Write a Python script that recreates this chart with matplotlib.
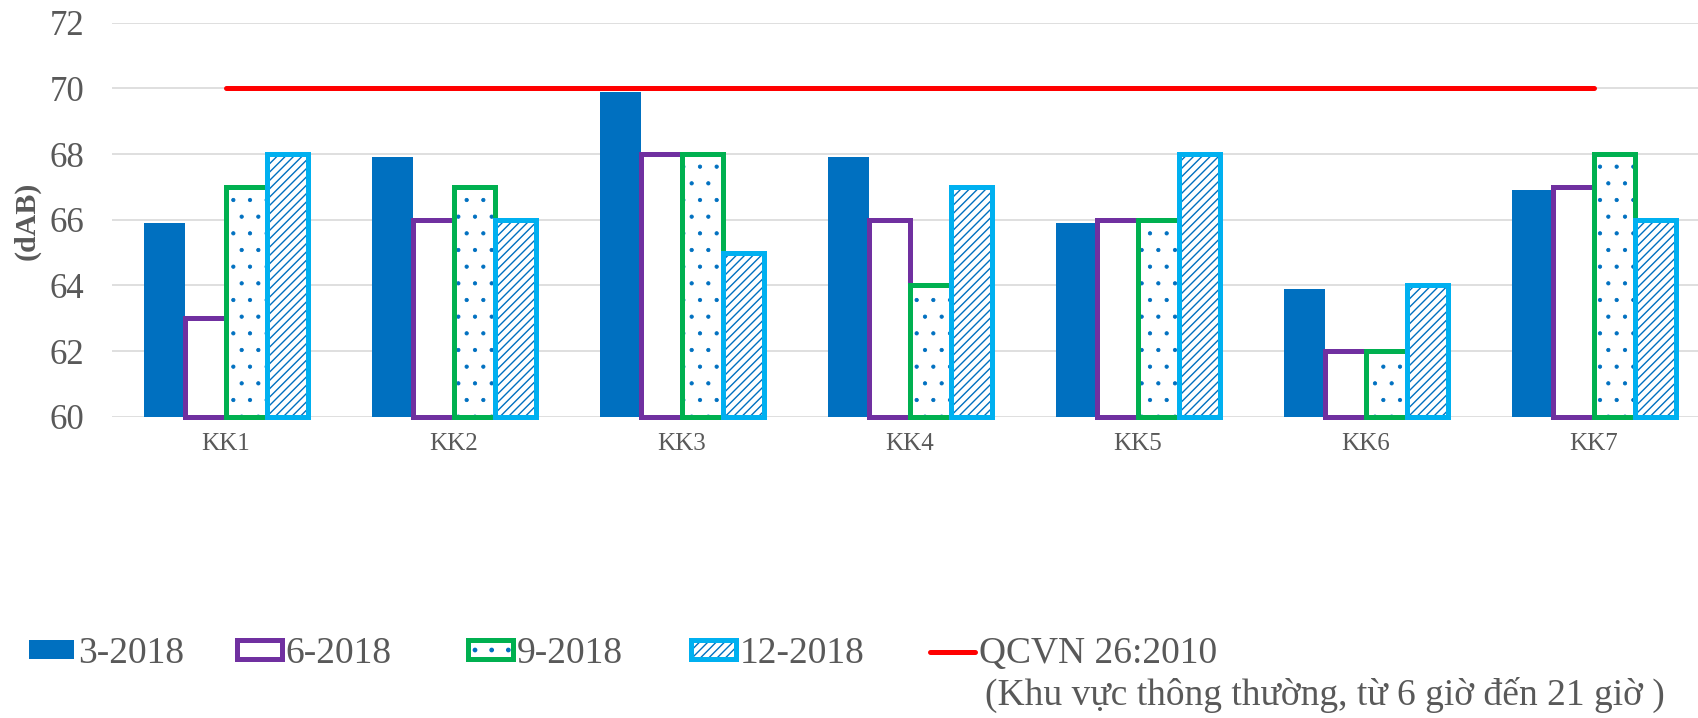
import matplotlib
matplotlib.use("Agg")
import matplotlib.pyplot as plt
import numpy as np
from matplotlib.patches import Rectangle
from matplotlib.lines import Line2D

# ---------------- data ----------------
categories = ["KK1", "KK2", "KK3", "KK4", "KK5", "KK6", "KK7"]
series_names = ["3-2018", "6-2018", "9-2018", "12-2018"]
s_3_2018 = [65.9, 67.9, 69.9, 67.9, 65.9, 63.9, 66.9]
s_6_2018 = [63, 66, 68, 66, 66, 62, 67]
s_9_2018 = [67, 67, 68, 64, 66, 62, 68]
s_12_2018 = [68, 66, 65, 67, 68, 64, 66]
qcvn_limit = [70, 70, 70, 70, 70, 70, 70]
qcvn_label = "QCVN 26:2010"
qcvn_note = "(Khu vực thông thường, từ 6 giờ đến 21 giờ )"
y_ticks = [60, 62, 64, 66, 68, 70, 72]
y_label = "(dAB)"

# ---------------- style ----------------
BLUE = "#0070c0"
PURPLE = "#7030a0"
GREEN = "#00b050"
CYAN = "#00b0f0"
RED = "#ff0000"
GRAY_TXT = "#595959"
GRID = "#d9d9d9"
plt.rcParams["font.family"] = ["Liberation Serif", "DejaVu Serif"]

W, H = 1698, 718
fig = plt.figure(figsize=(W / 100, H / 100), dpi=100)
ax_left, ax_right_px = 112, 112 + 7 * 228
ax_top, ax_bot = 22.7, 416.7
ax = fig.add_axes([ax_left / W, 1 - ax_bot / H, (ax_right_px - ax_left) / W, (ax_bot - ax_top) / H])

x = np.arange(len(categories))
bw = 0.18
offsets = (np.arange(4) - 1.5) * bw
base = 60
lw_edge = 3.6
DOT_HATCH = "."
DIAG_HATCH = "////"

# 3-2018 solid
ax.bar(x + offsets[0], np.array(s_3_2018) - base, bw, bottom=base, color=BLUE,
       linewidth=0, zorder=3)
# 6-2018 outline
ax.bar(x + offsets[1], np.array(s_6_2018) - base, bw, bottom=base, facecolor="white",
       edgecolor=PURPLE, linewidth=lw_edge, zorder=3, clip_on=False)
# 9-2018 dots + green edge
with plt.rc_context({"hatch.linewidth": 0.6}):
    ax.bar(x + offsets[2], np.array(s_9_2018) - base, bw, bottom=base, facecolor="white",
           edgecolor=BLUE, hatch=DOT_HATCH, linewidth=0, zorder=4)
ax.bar(x + offsets[2], np.array(s_9_2018) - base, bw, bottom=base, fill=False,
       edgecolor=GREEN, linewidth=lw_edge, zorder=4, clip_on=False)
# 12-2018 diagonal + cyan edge
with plt.rc_context({"hatch.linewidth": 1.0}):
    ax.bar(x + offsets[3], np.array(s_12_2018) - base, bw, bottom=base, facecolor="white",
           edgecolor=BLUE, hatch=DIAG_HATCH, linewidth=0, zorder=5)
ax.bar(x + offsets[3], np.array(s_12_2018) - base, bw, bottom=base, fill=False,
       edgecolor=CYAN, linewidth=lw_edge, zorder=5, clip_on=False)
# QCVN line
ax.plot(x, qcvn_limit, color=RED, linewidth=3.6, solid_capstyle="round", zorder=6)

ax.set_xlim(-0.5, 6.5)
ax.set_ylim(60, 72)
ax.set_yticks(y_ticks)
ax.set_xticks(x)
ax.set_xticklabels(categories)
for s in ax.spines.values():
    s.set_visible(False)
ax.grid(axis="y", color=GRID, linewidth=1.2, zorder=0)
ax.set_axisbelow(True)
ax.tick_params(axis="y", length=0, pad=20, labelsize=25, labelcolor=GRAY_TXT)
ax.tick_params(axis="x", length=0, pad=12, labelsize=18, labelcolor=GRAY_TXT)
fig.text(27 / W, 1 - 221 / H, y_label, rotation=90, ha="center", va="center",
         fontsize=21.6, fontweight="bold", color=GRAY_TXT)

# ---------------- legend ----------------
h1 = Rectangle((0, 0), 1, 1, facecolor=BLUE, linewidth=0)
h2 = Rectangle((0, 0), 1, 1, facecolor="white", edgecolor=PURPLE, linewidth=lw_edge)
with plt.rc_context({"hatch.linewidth": 0.6}):
    h3a = Rectangle((0, 0), 1, 1, facecolor="white", edgecolor=BLUE, hatch=DOT_HATCH, linewidth=0)
h3 = (h3a, Rectangle((0, 0), 1, 1, fill=False, edgecolor=GREEN, linewidth=lw_edge))
with plt.rc_context({"hatch.linewidth": 1.0}):
    h4a = Rectangle((0, 0), 1, 1, facecolor="white", edgecolor=BLUE, hatch=DIAG_HATCH, linewidth=0)
h4 = (h4a, Rectangle((0, 0), 1, 1, fill=False, edgecolor=CYAN, linewidth=lw_edge))
h5 = Line2D([], [], color=RED, linewidth=3.6, solid_capstyle="round")

handles = [h1, h2, h3, h4, h5]
labels = series_names + [qcvn_label]
anchors_px = [29, 237, 468, 691, 930]
legend_y = 1 - 654 / H
for hd, lb, ap in zip(handles, labels, anchors_px):
    lg = fig.legend([hd], [lb], loc="center left", bbox_to_anchor=(ap / W, legend_y),
                    frameon=False, fontsize=27, handlelength=1.2, handleheight=0.4,
                    handletextpad=0.1, borderpad=0, borderaxespad=0,
                    labelcolor=GRAY_TXT)
fig.text(985 / W, 1 - 695 / H, qcvn_note, ha="left", va="center", fontsize=27,
         color=GRAY_TXT)

fig.savefig("out.png", dpi=100)
